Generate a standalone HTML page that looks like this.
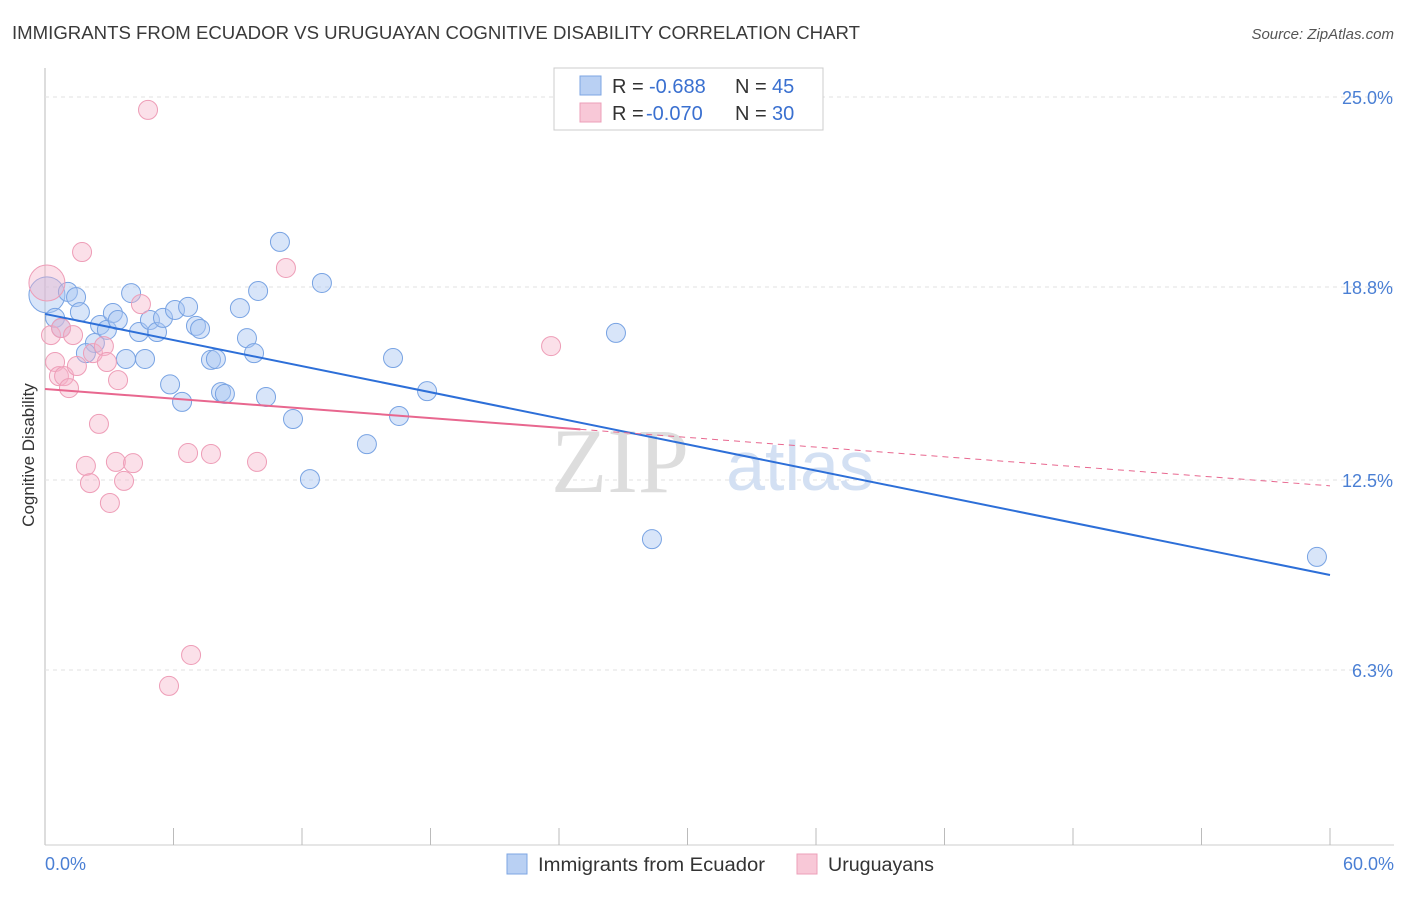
<!DOCTYPE html>
<html><head><meta charset="utf-8"><style>
body{margin:0;background:#fff;font-family:"Liberation Sans",sans-serif;}
</style></head><body>
<svg width="1406" height="892" xmlns="http://www.w3.org/2000/svg" style="font-family:'Liberation Sans',sans-serif">
<text x="12" y="39" font-size="18" fill="#3a3a3a" textLength="848" lengthAdjust="spacingAndGlyphs">IMMIGRANTS FROM ECUADOR VS URUGUAYAN COGNITIVE DISABILITY CORRELATION CHART</text>
<text x="1394" y="39" font-size="15" fill="#555" text-anchor="end" font-style="italic">Source: ZipAtlas.com</text>
<g id="grid"></g>
<text x="620" y="492" font-size="92" fill="#ddd" font-family="Liberation Serif" text-anchor="middle">ZIP</text>
<text x="800" y="490" font-size="70" fill="#d3e0f3" text-anchor="middle">atlas</text>
<g id="pts"></g>
<g id="lines"></g>
<text x="34" y="455" font-size="17" fill="#333" text-anchor="middle" transform="rotate(-90 34 455)">Cognitive Disability</text>
<text x="45" y="870" font-size="18" fill="#4a7fd4">0.0%</text>
<text x="1394" y="870" font-size="18" fill="#4a7fd4" text-anchor="end">60.0%</text>
<g>
<rect x="554" y="68" width="269" height="62" fill="#fff" stroke="#ccc"/>
<rect x="580" y="76" width="21" height="19" fill="#b9d0f3" stroke="#7da6e3"/>
<rect x="580" y="103" width="21" height="19" fill="#f8c8d7" stroke="#ec9fb8"/>
<text x="612" y="93" font-size="20" fill="#333">R = </text><text x="649" y="93" font-size="20" fill="#3a70d0">-0.688</text>
<text x="735" y="93" font-size="20" fill="#333">N = </text><text x="772" y="93" font-size="20" fill="#3a70d0">45</text>
<text x="612" y="120" font-size="20" fill="#333">R = </text><text x="646" y="120" font-size="20" fill="#3a70d0">-0.070</text>
<text x="735" y="120" font-size="20" fill="#333">N = </text><text x="772" y="120" font-size="20" fill="#3a70d0">30</text>
</g>
<g>
<rect x="507" y="854" width="20" height="20" fill="#b9d0f3" stroke="#7da6e3"/>
<text x="538" y="871" font-size="19" fill="#333" textLength="227" lengthAdjust="spacingAndGlyphs">Immigrants from Ecuador</text>
<rect x="797" y="854" width="20" height="20" fill="#f8c8d7" stroke="#ec9fb8"/>
<text x="828" y="871" font-size="19" fill="#333" textLength="106" lengthAdjust="spacingAndGlyphs">Uruguayans</text>
</g>
</svg>
<script>
const yTicks=[25.0,18.8,12.5,6.3];
const yTickLabels=["25.0%","18.8%","12.5%","6.3%"];
const blueX=[0.09,0.47,0.75,1.07,1.45,1.63,2.33,1.91,2.57,2.89,3.17,3.40,3.78,4.02,4.39,4.67,4.90,5.23,5.51,5.84,6.07,6.40,6.68,7.05,7.24,7.75,7.98,8.22,8.40,9.10,9.43,9.76,9.95,10.32,10.97,11.58,12.93,15.03,12.37,16.25,16.53,17.84,26.66,28.34,59.39];
const blueY=[18.54,17.79,17.46,18.64,18.47,17.98,16.97,16.64,17.56,17.40,17.95,17.72,16.45,18.60,17.33,16.45,17.72,17.33,17.79,15.62,18.05,15.05,18.15,17.53,17.43,16.42,16.45,15.37,15.31,18.11,17.13,16.64,18.67,15.21,20.27,14.49,18.93,13.67,12.53,16.48,14.59,15.40,17.30,10.57,9.99];
const pinkX=[0.09,0.28,0.47,0.75,1.31,0.65,0.89,1.12,1.73,1.49,2.24,2.75,2.89,2.52,1.91,2.10,3.41,3.03,3.31,3.69,4.11,4.48,4.81,5.79,6.68,6.82,7.75,9.90,11.25,23.63];
const pinkY=[18.93,17.23,16.35,17.46,17.23,15.89,15.89,15.50,19.94,16.22,16.64,16.87,16.35,14.33,12.96,12.40,15.76,11.75,13.09,12.47,13.05,18.24,24.58,5.78,13.38,6.79,13.35,13.09,19.42,16.87];
const blueTrend=[17.92,9.40];
const pinkTrend=[15.47,12.31];
const NS="http://www.w3.org/2000/svg";
const X=v=>45+v/60*1285;
const Y=v=>863-v/25*766;
function mk(t,a,p){const e=document.createElementNS(NS,t);for(const k in a)e.setAttribute(k,a[k]);p.appendChild(e);return e;}
const grid=document.getElementById('grid');
const ax=mk('line',{x1:45,y1:68,x2:45,y2:845,stroke:'#bbb'},grid);


const bx=mk('line',{x1:45,y1:845,x2:1394,y2:845,stroke:'#ccc'},grid);


yTicks.forEach((t,i)=>{
 const g=mk('line',{x1:45,y1:Y(t),x2:1394,y2:Y(t),stroke:'#e2e2e2','stroke-dasharray':'4,4'},grid);
 
 
 const l=mk('text',{x:1393,y:Y(t)+7,'font-size':18,fill:'#4a7fd4','text-anchor':'end'},grid);
 l.textContent=yTickLabels[i];
 
 
});
for(let i=1;i<=10;i++){
 const tk=mk('line',{x1:X(i*6),y1:828,x2:X(i*6),y2:845,stroke:'#bbb'},grid);
 
 
}
const pts=document.getElementById('pts');
blueX.forEach((x,i)=>{
 const c=mk('circle',{cx:X(x),cy:Y(blueY[i]),r:i==0?18:9.5,fill:'rgba(168,198,242,0.45)',stroke:'#78a3e3','stroke-width':1},pts);
 
 
});
pinkX.forEach((x,i)=>{
 const c=mk('circle',{cx:X(x),cy:Y(pinkY[i]),r:i==0?18:9.5,fill:'rgba(246,178,200,0.4)',stroke:'#ee9db7','stroke-width':1},pts);
 
 
});
const ln=document.getElementById('lines');
const bl=mk('line',{x1:X(0),y1:Y(blueTrend[0]),x2:X(60),y2:Y(blueTrend[1]),stroke:'#2d6fd8','stroke-width':2},ln);


const pAt=x=>pinkTrend[0]+(pinkTrend[1]-pinkTrend[0])*x/60;
const pl=mk('line',{x1:X(0),y1:Y(pAt(0)),x2:X(25),y2:Y(pAt(25)),stroke:'#e8678f','stroke-width':2},ln);


const pd=mk('line',{x1:X(25),y1:Y(pAt(25)),x2:X(60),y2:Y(pAt(60)),stroke:'#e8678f','stroke-width':1,'stroke-dasharray':'6,5'},ln);


</script>
</body></html>
